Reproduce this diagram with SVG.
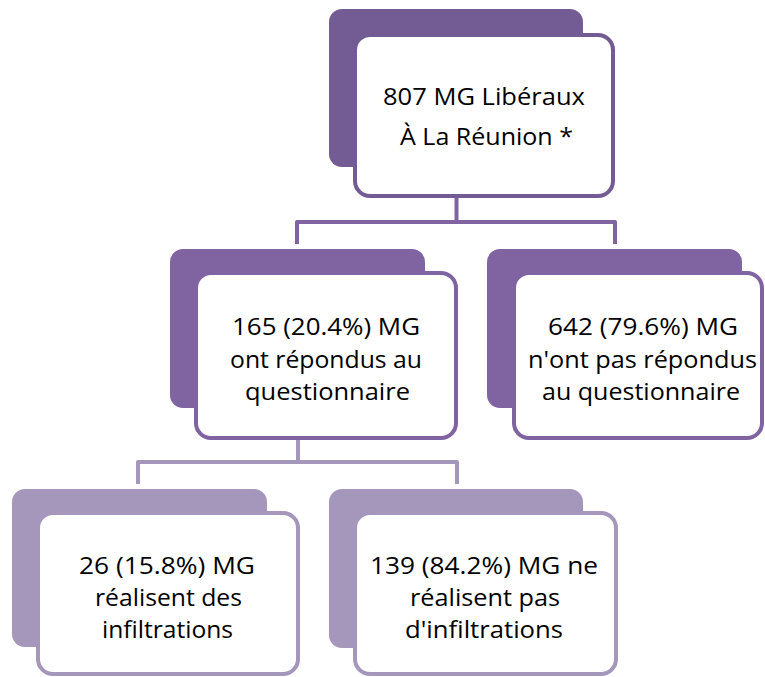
<svg xmlns="http://www.w3.org/2000/svg" width="765" height="677" viewBox="0 0 765 677">
<style>
.t{font-family:"Open Sans","DejaVu Sans",sans-serif;font-size:24.5px;fill:#000}
.f{fill:#fff;stroke-width:4}
.c1{fill:#735b94}.s1{stroke:#735b94}
.c2{fill:#8064a2}.s2{stroke:#8064a2}
.c3{fill:#a596bc}.s3{stroke:#a596bc}
.ln{fill:none;stroke-width:4;stroke-linejoin:round}
</style>
<rect width="765" height="677" fill="#fff"/>
<g id="connectors">
<path class="ln s2" d="M456.5 196 V222 M297 244 V222 H615 V244"/>
<path class="ln s3" d="M298 440 V462 M138 484 V462 H457 V484"/>
</g>
<g id="n0">
<rect class="c1" x="329" y="9" width="254" height="158" rx="13"/>
<rect class="f s1" x="355" y="35" width="258" height="161" rx="15"/>
<text class="t" x="383" y="105" textLength="202" lengthAdjust="spacingAndGlyphs">807 MG Libéraux</text>
<text class="t" x="400" y="145" textLength="173" lengthAdjust="spacingAndGlyphs">À La Réunion *</text>
</g>
<g id="n1">
<rect class="c2" x="170" y="249" width="255" height="159" rx="13"/>
<rect class="f s2" x="196" y="273" width="260" height="165" rx="15"/>
<text class="t" x="232" y="335" textLength="188" lengthAdjust="spacingAndGlyphs">165 (20.4%) MG</text>
<text class="t" x="230" y="368" textLength="192" lengthAdjust="spacingAndGlyphs">ont répondus au</text>
<text class="t" x="245" y="400" textLength="165" lengthAdjust="spacingAndGlyphs">questionnaire</text>
</g>
<g id="n2">
<rect class="c2" x="487" y="249" width="255" height="159" rx="13"/>
<rect class="f s2" x="514" y="273" width="248" height="165" rx="15"/>
<text class="t" x="548" y="335" textLength="190" lengthAdjust="spacingAndGlyphs">642 (79.6%) MG</text>
<text class="t" x="528" y="368" textLength="229" lengthAdjust="spacingAndGlyphs">n'ont pas répondus</text>
<text class="t" x="542" y="400" textLength="198" lengthAdjust="spacingAndGlyphs">au questionnaire</text>
</g>
<g id="n3">
<rect class="c3" x="12" y="489" width="255" height="158" rx="13"/>
<rect class="f s3" x="38" y="513" width="260" height="161" rx="15"/>
<text class="t" x="79" y="574" textLength="176" lengthAdjust="spacingAndGlyphs">26 (15.8%) MG</text>
<text class="t" x="95" y="606" textLength="147" lengthAdjust="spacingAndGlyphs">réalisent des</text>
<text class="t" x="102" y="638" textLength="131" lengthAdjust="spacingAndGlyphs">infiltrations</text>
</g>
<g id="n4">
<rect class="c3" x="329" y="489" width="254" height="159" rx="13"/>
<rect class="f s3" x="355" y="513" width="261" height="161" rx="15"/>
<text class="t" x="370" y="574" textLength="228" lengthAdjust="spacingAndGlyphs">139 (84.2%) MG ne</text>
<text class="t" x="410" y="606" textLength="150" lengthAdjust="spacingAndGlyphs">réalisent pas</text>
<text class="t" x="405" y="638" textLength="158" lengthAdjust="spacingAndGlyphs">d'infiltrations</text>
</g>
</svg>
